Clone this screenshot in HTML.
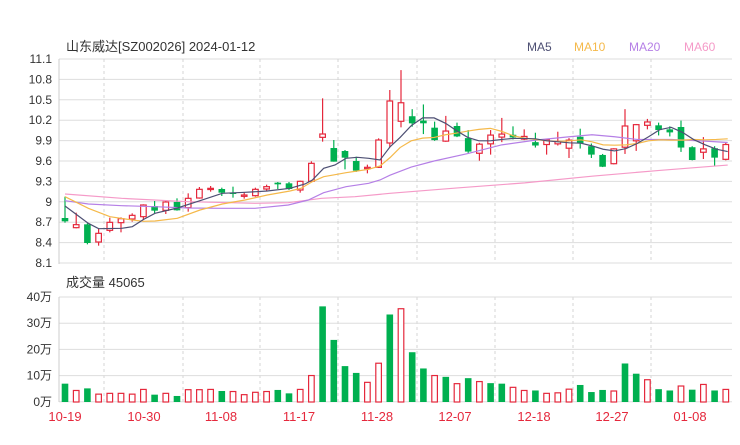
<!DOCTYPE html><html><head><meta charset="utf-8"><style>
body{margin:0;background:#fff;width:740px;height:440px;overflow:hidden}
text{font-family:"Liberation Sans","Noto Sans CJK SC",sans-serif}
</style></head><body>
<svg id="s" width="740" height="440" xmlns="http://www.w3.org/2000/svg"></svg>
<script>
var s=document.getElementById('s'),h='';
var R='#e5283c',G='#00b050';
h+='<text x="66" y="51" font-size="13" fill="#333">山东威达[SZ002026] 2024-01-12</text>';
h+='<text x="527" y="51" font-size="12" fill="#4d4f73">MA5</text><text x="574" y="51" font-size="12" fill="#f5b94a">MA10</text><text x="629" y="51" font-size="12" fill="#b57fe6">MA20</text><text x="684" y="51" font-size="12" fill="#f59ac8">MA60</text>';
var labs=['11.1','10.8','10.5','10.2','9.9','9.6','9.3','9','8.7','8.4','8.1'];
for(var i=0;i<11;i++){var y=59+i*20.4;h+='<line x1="59" x2="732" y1="'+y+'" y2="'+y+'" stroke="#ddd"/>';h+='<text x="52" y="'+(y+4)+'" font-size="12" fill="#333" text-anchor="end">'+labs[i]+'</text>';}
var gx=[104,183,260,338,417,495,573,651];
gx.forEach(function(x){h+='<line x1="'+x+'" x2="'+x+'" y1="59" y2="263" stroke="#d4d4d4" stroke-dasharray="3,3"/>';h+='<line x1="'+x+'" x2="'+x+'" y1="297" y2="402" stroke="#d4d4d4" stroke-dasharray="3,3"/>';});
h+='<line x1="59" x2="59" y1="59" y2="264" stroke="#ccc"/>';
h+='<text x="66" y="287" font-size="13" fill="#333">成交量 45065</text>';
var vl=['40万','30万','20万','10万','0万'];
for(i=0;i<5;i++){var y=297+i*26.2;h+='<line x1="59" x2="732" y1="'+y+'" y2="'+y+'" stroke="#ddd"/>';h+='<text x="52" y="'+(y+4)+'" font-size="12" fill="#333" text-anchor="end">'+vl[i]+'</text>';}
h+='<line x1="59" x2="59" y1="297" y2="402" stroke="#ccc"/>';
var c1=[[0,474,484,410,488],[1,494,503,458,505],[0,493,549,490,553],[1,520,546,507,557],[1,487,511,473,517],[1,476,488,472,517],[1,466,477,460,485],[1,435,470,433,480],[0,438,452,423,460],[1,426,451,423,462],[0,426,451,415,452],[1,415,443,400,455],[1,388,414,381,416],[1,385,388,378,395],[0,387,398,383,408],[0,398,402,380,413],[1,405,409,397,416],[1,388,407,383,410],[1,380,387,374,392],[0,368,373,366,387],[0,370,387,366,390],[1,364,390,362,398],[1,310,364,304,367],[1,222,232,115,245],[0,264,305,240,305],[0,273,293,270,328],[0,303,332,290,336],[1,322,326,314,340],[1,240,322,235,324],[1,123,249,90,262]];
var c2=[[1,127,182,30,200],[0,167,188,146,198],[0,180,188,132,220],[0,201,238,183,240],[1,211,241,166,243],[0,196,227,186,229],[0,232,272,208,276],[1,250,277,246,299],[1,223,249,208,281],[1,220,229,172,244],[0,222,230,197,236],[1,227,235,206,238],[0,244,254,216,260],[1,237,251,236,281],[1,242,249,213,254],[1,238,262,232,291],[0,228,248,204,263],[0,256,281,248,291],[0,282,317,279,318],[1,264,308,262,310],[1,196,259,146,279],[1,192,240,190,270],[1,184,194,175,206],[0,194,208,186,224],[0,206,215,197,227],[0,199,260,180,273],[0,259,297,256,298],[1,264,274,229,294],[0,262,290,256,315],[1,251,295,245,298]];
function cd(i,c,k){var x=65+i*11.2,bt=60+c[1]/k,bb=60+c[2]/k,wt=60+c[3]/k,wb=60+c[4]/k;var col=c[0]?R:G;
h+='<line x1="'+x+'" x2="'+x+'" y1="'+wt+'" y2="'+wb+'" stroke="'+col+'" stroke-width="1.2"/>';
var bh=Math.max(bb-bt,1.2);
if(c[0])h+='<rect x="'+(x-2.8)+'" y="'+bt+'" width="5.6" height="'+bh+'" fill="#fff" stroke="'+R+'" stroke-width="1.2"/>';
else h+='<rect x="'+(x-3.3)+'" y="'+bt+'" width="6.6" height="'+bh+'" fill="'+G+'"/>';}
c1.forEach(function(c,i){cd(i,c,3)});c2.forEach(function(c,i){cd(i+30,c,2.97)});
function ln(p1,p2,col){var a=p1.filter(function(p){return 55+p[0]/3<390}).map(function(p){return (55+p[0]/3)+','+(60+p[1]/3)});var b=p2.map(function(p){return (390+p[0]/2.97)+','+(60+p[1]/2.97)});h+='<polyline points="'+a.concat(b).join(' ')+'" fill="none" stroke="'+col+'" stroke-width="1.2"/>';}
ln([[30,402],[200,415],[400,425],[600,430],[700,428],[800,415],[900,410],[1020,393]],[[0,396],[200,380],[400,365],[600,345],[800,328],[1003,312]],'#f59ac8');
ln([[30,422],[100,432],[200,437],[300,440],[400,444],[500,445],[600,445],[700,435],[760,420],[806,398],[873,380],[941,370],[975,360],[1020,335]],[[0,342],[63,318],[131,300],[231,278],[332,252],[432,238],[533,228],[600,222],[667,228],[734,236],[835,236],[936,241],[1003,245]],'#b57fe6');
ln([[30,410],[100,445],[165,470],[232,480],[266,484],[300,483],[367,475],[435,450],[502,432],[570,420],[637,405],[705,393],[738,385],[772,365],[806,350],[840,344],[873,338],[907,333],[941,328],[975,318],[1020,275]],[[0,290],[30,260],[63,240],[97,232],[131,230],[165,222],[198,217],[231,211],[264,206],[298,203],[332,212],[366,225],[399,232],[432,236],[466,240],[499,242],[533,240],[567,237],[600,243],[633,252],[667,253],[701,252],[734,248],[768,240],[801,237],[835,238],[869,238],[903,236],[936,237],[969,236],[1003,234]],'#f5b94a');
ln([[30,438],[100,490],[131,506],[200,505],[232,500],[266,478],[300,460],[367,444],[435,422],[502,400],[570,397],[637,393],[705,385],[750,372],[772,360],[806,325],[840,315],[873,295],[907,292],[941,295],[975,300],[1008,270],[1020,245]],[[0,258],[30,230],[63,195],[97,172],[131,172],[165,188],[198,210],[231,230],[264,240],[298,240],[332,236],[366,233],[399,233],[432,234],[466,240],[499,243],[533,246],[567,247],[600,255],[633,265],[667,270],[701,263],[734,248],[768,228],[801,207],[835,200],[869,215],[903,237],[936,252],[969,265],[1003,272]],'#4d4f73');
var v=[[0,7.0],[1,4.4],[0,5.2],[1,3.0],[1,3.3],[1,3.3],[1,3.0],[1,4.8],[0,2.8],[1,3.3],[0,2.3],[1,4.7],[1,4.7],[1,4.8],[0,4.2],[1,4.0],[1,2.8],[1,3.7],[1,4.0],[0,4.6],[0,3.3],[1,4.8],[1,10.1],[0,36.5],[0,23.7],[0,13.7],[0,11.1],[1,7.5],[1,14.8],[0,33.4],[1,35.6],[0,19.0],[0,12.8],[1,10.1],[0,9.6],[1,7.0],[0,9.1],[1,7.8],[0,7.2],[0,7.0],[1,5.6],[1,4.4],[0,4.4],[1,3.3],[1,3.5],[1,4.9],[0,6.5],[0,3.8],[0,4.6],[1,4.2],[0,14.7],[0,10.8],[1,8.5],[0,4.9],[0,4.4],[1,6.1],[0,4.7],[1,6.7],[0,4.4],[1,4.8]];
v.forEach(function(b,i){var x=65+i*11.2,hh=b[1]*2.62,y=402-hh;
if(b[0])h+='<rect x="'+(x-2.8)+'" y="'+y+'" width="5.6" height="'+hh+'" fill="#fff" stroke="'+R+'" stroke-width="1.2"/>';
else h+='<rect x="'+(x-3.3)+'" y="'+y+'" width="6.6" height="'+hh+'" fill="'+G+'"/>';});
var dl=[['10-19',65],['10-30',144],['11-08',221],['11-17',299],['11-28',377],['12-07',455],['12-18',534],['12-27',612],['01-08',690]];
dl.forEach(function(d){h+='<text x="'+d[1]+'" y="421" font-size="13" fill="'+R+'" text-anchor="middle">'+d[0]+'</text>';});
s.innerHTML=h;
</script></body></html>
